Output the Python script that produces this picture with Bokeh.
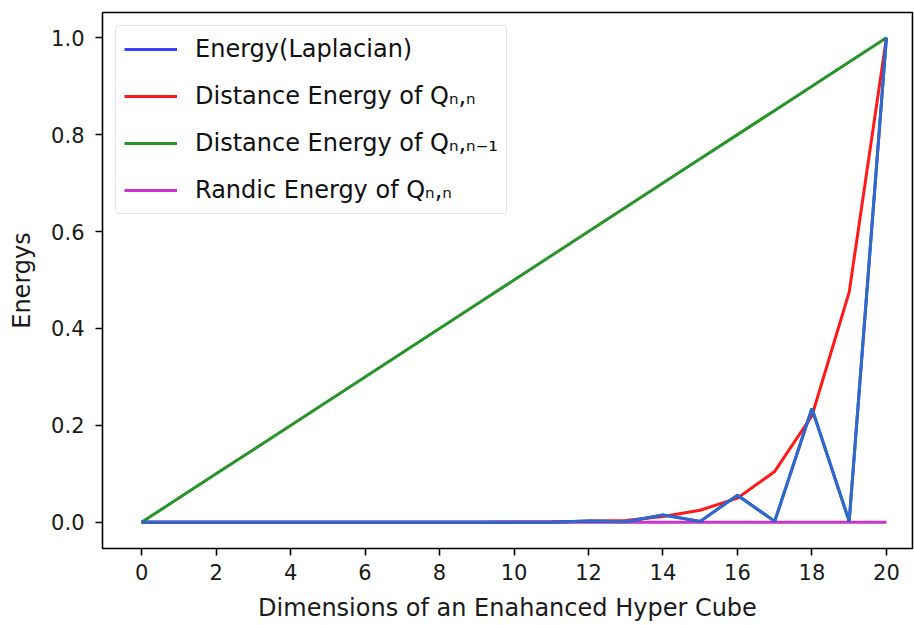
from bokeh.plotting import figure
from bokeh.models import Range1d, FixedTicker, PrintfTickFormatter, Legend, LegendItem
from bokeh.embed import file_html
from bokeh.resources import INLINE

dims = [0, 1, 2, 3, 4, 5, 6, 7, 8, 9, 10, 11, 12, 13, 14, 15, 16, 17, 18, 19, 20]
energy_laplacian = [0, 0, 0, 0, 0, 0, 0, 0, 0, 0, 0, 0, 0.003, 0.001, 0.015, 0.002,
                    0.056, 0.002, 0.235, 0.002, 1.0]
distance_qnn = [0, 0, 0, 0, 0, 0, 0, 0, 0, 0, 0.0005, 0.001, 0.002, 0.004, 0.012, 0.025,
                0.05, 0.105, 0.22, 0.475, 1.0]
distance_qnn1 = [0.0, 0.05, 0.1, 0.15, 0.2, 0.25, 0.3, 0.35, 0.4, 0.45, 0.5, 0.55, 0.6,
                 0.65, 0.7, 0.75, 0.8, 0.85, 0.9, 0.95, 1.0]
randic_qnn = [0] * 21
x_ticks = [0, 2, 4, 6, 8, 10, 12, 14, 16, 18, 20]
y_ticks = [0.0, 0.2, 0.4, 0.6, 0.8, 1.0]

FONT = "DejaVu Sans"

p = figure(width=914, height=625, output_backend="svg", toolbar_location=None,
           x_range=Range1d(-1.05, 20.7), y_range=Range1d(-0.054, 1.052),
           min_border_left=102, min_border_right=2, min_border_top=12, min_border_bottom=77)
p.grid.visible = False
p.outline_line_color = "black"
p.outline_line_width = 1.6
p.background_fill_color = "white"
p.border_fill_color = "white"

lw = 3
r_m = p.line(dims, randic_qnn, line_color="#bf00bf", line_width=lw, line_alpha=0.8)
r_r = p.line(dims, distance_qnn, line_color="#ff0000", line_width=lw, line_alpha=0.9)
r_g = p.line(dims, distance_qnn1, line_color="#108810", line_width=lw, line_alpha=0.9)
r_b_leg = p.line(dims, energy_laplacian, line_color="#2a2aff", line_width=lw, line_alpha=0.9)
r_b = p.line(dims, energy_laplacian, line_color="#2e6bc6", line_width=lw)

for ax in (p.xaxis[0], p.yaxis[0]):
    ax.axis_line_color = None
    ax.major_tick_line_color = "black"
    ax.major_tick_line_width = 1.6
    ax.major_tick_out = 7
    ax.major_tick_in = 0
    ax.minor_tick_line_color = None
    ax.major_label_text_font = FONT
    ax.major_label_text_font_size = "21px"
    ax.major_label_text_color = "#1a1a1a"
    ax.axis_label_text_font = FONT
    ax.axis_label_text_font_size = "24px"
    ax.axis_label_text_font_style = "normal"
    ax.axis_label_text_color = "#1a1a1a"

p.xaxis.ticker = FixedTicker(ticks=x_ticks)
p.yaxis.ticker = FixedTicker(ticks=y_ticks)
p.yaxis.formatter = PrintfTickFormatter(format="%.1f")
p.xaxis.axis_label = "Dimensions of an Enahanced Hyper Cube"
p.yaxis.axis_label = "Energys"
p.xaxis.major_label_standoff = 8
p.yaxis.major_label_standoff = 11
p.xaxis.axis_label_standoff = 11
p.yaxis.axis_label_standoff = 12

legend = Legend(items=[
    LegendItem(label="Energy(Laplacian)", renderers=[r_b_leg]),
    LegendItem(label="Distance Energy of Qₙ,ₙ", renderers=[r_r]),
    LegendItem(label="Distance Energy of Qₙ,ₙ₋₁", renderers=[r_g]),
    LegendItem(label="Randic Energy of Qₙ,ₙ", renderers=[r_m]),
], location="top_left")
legend.margin = 13
legend.padding = 8
legend.spacing = 17
legend.label_height = 30
legend.glyph_height = 30
legend.glyph_width = 53
legend.label_standoff = 18
legend.label_text_font = FONT
legend.label_text_font_size = "24px"
legend.label_text_color = "#111111"
legend.border_line_color = "#cccccc"
legend.border_line_width = 1.5
legend.border_radius = 4
legend.background_fill_alpha = 0.85
p.add_layout(legend)

open("out.html", "w").write(file_html(p, INLINE))
